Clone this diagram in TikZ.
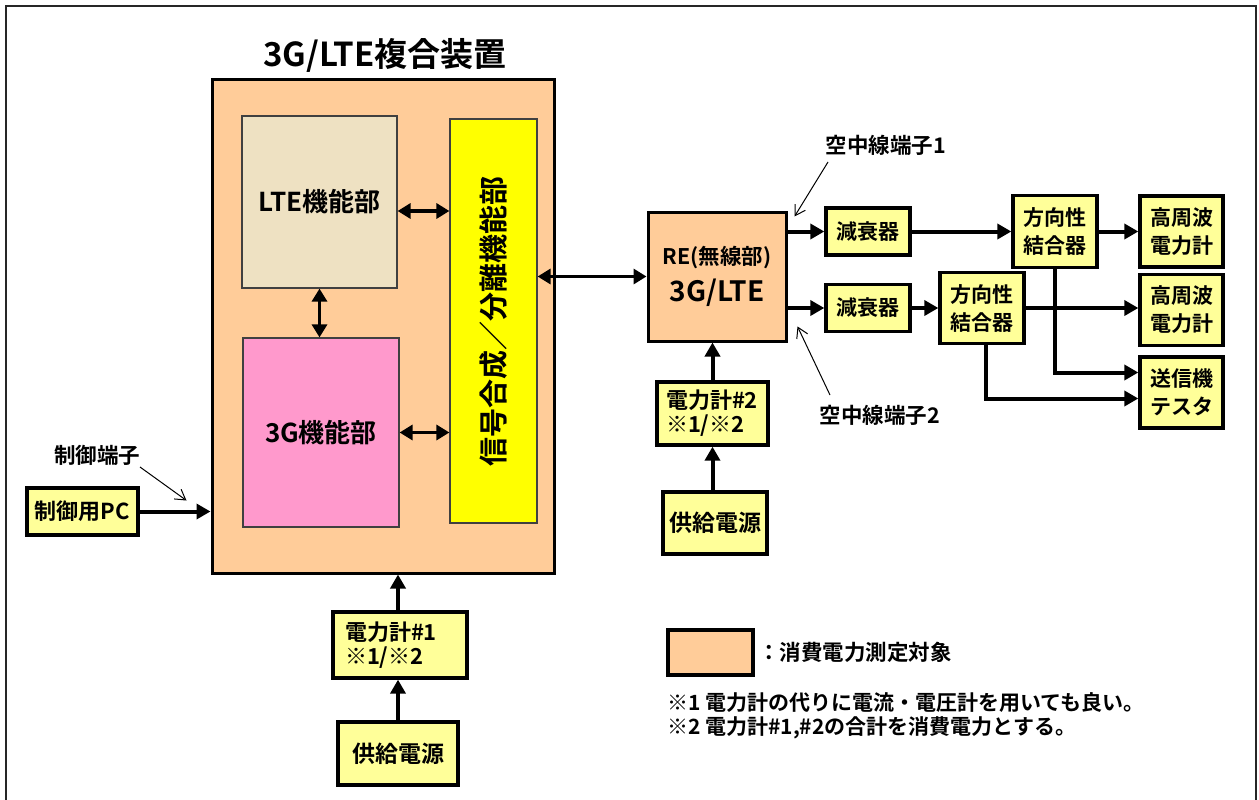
\documentclass[tikz,border=0pt]{standalone}
\usepackage{fontspec}
\setmainfont{Noto Sans CJK JP}[BoldFont={* Bold}]
\usetikzlibrary{arrows.meta,calc,positioning}
\definecolor{orng}{HTML}{FFCC99}
\definecolor{beige}{HTML}{EEE1C2}
\definecolor{pnk}{HTML}{FF99CC}
\definecolor{ylw}{HTML}{FFFF00}
\definecolor{lyel}{HTML}{FFFF99}
\tikzset{
  ybox/.style={draw,line width=3.3pt,fill=lyel,inner sep=0pt,align=center,font=\fontsize{21}{28}\selectfont\bfseries},
  pmbox/.style={draw,line width=3.3pt,fill=lyel,inner sep=0pt,text width=93pt,align=left,font=\fontsize{22}{24}\selectfont\bfseries},
  inbox/.style={draw=black!75,line width=1.2pt,inner sep=0pt,font=\fontsize{26}{30}\selectfont\bfseries},
  lbl/.style={inner sep=0pt,font=\fontsize{21.5}{25}\selectfont\bfseries},
  arr/.style={line width=4pt,-{Triangle[length=14pt,width=15pt]}},
  dbl/.style={line width=3.5pt,{Triangle[length=13pt,width=15pt]}-{Triangle[length=13pt,width=15pt]}},
  callout/.style={line width=1pt,-{Straight Barb[length=10pt,width=12pt]}}
}

\begin{document}
\begin{tikzpicture}[x=1pt,y=-1pt]
\useasboundingbox (0,0) rectangle (1259,800);
\draw[line width=2pt,black!85] (6,6) rectangle (1256,812);
% 3G/LTE device
\node[font=\fontsize{33}{38}\selectfont\bfseries] (ttl) at (385,55) {3G/LTE複合装置};
\node[draw,line width=3pt,fill=orng,minimum width=342pt,minimum height=493pt] (main) at (383,326.5) {};
\node[inbox,fill=beige,minimum width=155pt,minimum height=172pt] (lte) at (319.5,202) {LTE機能部};
\node[inbox,fill=pnk,minimum width=156pt,minimum height=189pt] (g3) at (321,432.5) {3G機能部};
\node[inbox,fill=ylw,minimum width=87pt,minimum height=404pt,font=\fontsize{29}{31}\selectfont\bfseries] (sig) at (493.5,321) {\rotatebox{90}{信号合成／分離機能部}};
\draw[dbl] ([yshift=-9pt]lte.east) -- ([yshift=-9pt]lte.east -| sig.west);
\draw[dbl] (lte.south) -- (lte.south |- g3.north);
\draw[dbl] (g3.east) -- (g3.east -| sig.west);
% radio unit
\node[draw,line width=3pt,fill=orng,inner sep=0pt,minimum width=138pt,minimum height=129pt,align=center,font=\fontsize{28}{37}\selectfont\bfseries] (re) at (717,276.5) {{\fontsize{21.5}{37}\selectfont RE(無線部)}\\3G/LTE};
\draw[dbl] (re.west -| sig.east) -- (re.west);
\node[ybox,minimum width=84pt,minimum height=47pt] (att1) at (868,231.5) {減衰器};
\node[ybox,minimum width=84pt,minimum height=47pt] (att2) at (868,308) {減衰器};
\node[ybox,minimum width=84pt,minimum height=72pt] (dc1) at (1055,231.5) {方向性\\結合器};
\node[ybox,minimum width=84pt,minimum height=71pt] (dc2) at (982,308) {方向性\\結合器};
\node[ybox,minimum width=83pt,minimum height=71pt] (hf1) at (1181.5,231.5) {高周波\\電力計};
\node[ybox,minimum width=83pt,minimum height=71pt] (hf2) at (1181.5,310) {高周波\\電力計};
\node[ybox,minimum width=83pt,minimum height=71pt] (tes) at (1181.5,392.5) {送信機\\テスタ};
\foreach \a in {att1,att2}{\draw[arr] (\a.west -| re.east) -- (\a.west);}
\foreach \a/\b in {att1/dc1,dc1/hf1,att2/dc2}{\draw[arr] (\a.east) -- (\a.east -| \b.west);}
\draw[arr] (dc2.east) -- (dc2.east -| hf2.west);
\draw[arr] (dc1.south) |- ([yshift=20pt]tes.west);
\draw[arr] ([xshift=4pt]dc2.south) |- ([yshift=-6pt]tes.west);
% antenna terminals
\node[lbl] (ant1) at (886,145) {空中線端子1};
\node[lbl] (ant2) at (880,415) {空中線端子2};
\coordinate (t1) at ($(re.north east)+(7,6)$);
\coordinate (t2) at ($(re.south east)+(10,-16)$);
\draw[callout] ($(ant1)+(-58,17)$) -- (t1);
\draw[callout] ($(ant2)+(-50,-20)$) -- (t2);
% power supply
\node[pmbox,text width=110pt,minimum width=134pt,minimum height=66pt] (pm1) at (400,645) {電力計\#1\\※1/※2};
\node[ybox,minimum width=120pt,minimum height=63pt,font=\fontsize{23}{27}\selectfont\bfseries] (ps1) at (398,753.5) {供給電源};
\node[pmbox,minimum width=111pt,minimum height=63pt] (pm2) at (712.5,413.5) {電力計\#2\\※1/※2};
\node[ybox,minimum width=104pt,minimum height=62pt,font=\fontsize{23}{27}\selectfont\bfseries] (ps2) at (715,523) {供給電源};
\draw[arr] ([xshift=-2pt]pm1.north) -- ([xshift=-2pt]pm1.north |- main.south);
\draw[arr] (ps1.north) -- (ps1.north |- pm1.south);
\draw[arr] (pm2.north) -- (pm2.north |- re.south);
\draw[arr] (pm2.south |- ps2.north) -- (pm2.south);
% control PC
\node[ybox,minimum width=111pt,minimum height=47pt,font=\fontsize{22}{26}\selectfont\bfseries] (pc) at (82.5,511.5) {制御用PC};
\draw[arr] (pc.east) -- (pc.east -| main.west);
\node[lbl] (ctl) at (97,455) {制御端子};
\coordinate (ct) at ($(pc.east -| main.west)+(-24,-11)$);
\draw[callout] ($(ctl)+(43,12)$) -- (ct);
% legend and notes
\node[draw,line width=4pt,fill=orng,minimum width=85pt,minimum height=45pt] (leg) at (710.5,652.5) {};
\node[lbl,right=3pt of leg] (legtxt) {：消費電力測定対象};
\node[lbl,font=\fontsize{21}{25}\selectfont\bfseries,anchor=west] (n1) at (667,703) {※1 電力計の代りに電流・電圧計を用いても良い。};
\node[lbl,font=\fontsize{21}{25}\selectfont\bfseries,anchor=west] (n2) at (667,728) {※2 電力計\#1,\#2の合計を消費電力とする。};
\end{tikzpicture}
\end{document}
